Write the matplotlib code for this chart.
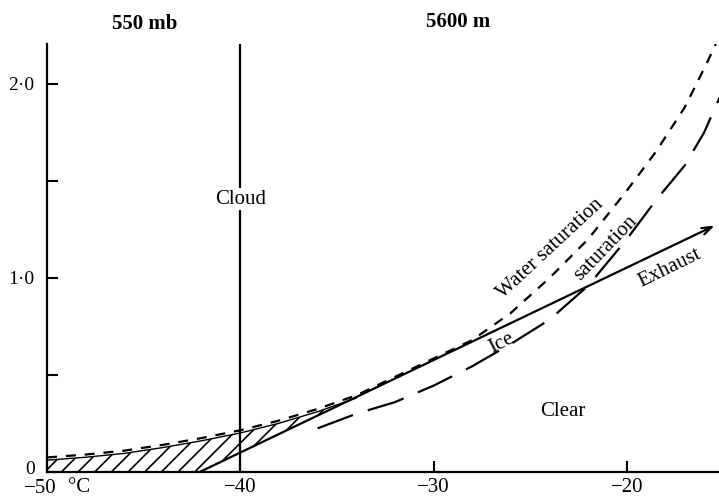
import numpy as np
import matplotlib
matplotlib.use("Agg")
import matplotlib.pyplot as plt
from matplotlib.transforms import ScaledTranslation

# ---------------------------------------------------------------------------
# Data (temperature in deg C, value on left axis)
# ---------------------------------------------------------------------------
water_T = [-50, -48, -46, -44, -42, -40, -38, -36, -34, -32, -30, -28, -26,
           -24, -22, -20, -18.5, -17, -15.8, -15.2]
water_v = [0.075, 0.09, 0.11, 0.14, 0.175, 0.215, 0.265, 0.325, 0.395, 0.49,
           0.585, 0.68, 0.82, 1.00, 1.20, 1.45, 1.65, 1.88, 2.12, 2.25]

ice_T = [-36, -34, -32, -30, -28, -26, -24, -22, -20, -18.5, -17, -16,
         -15.2]
ice_v = [0.225, 0.30, 0.36, 0.445, 0.545, 0.66, 0.785, 0.96, 1.20, 1.40,
         1.58, 1.75, 1.93]

exhaust_T = [-42.1, -15.46]
exhaust_v = [0.0, 1.27]

xticks = [-50, -40, -30, -20]
xticklabels = ['\u221250', '\u221240', '\u221230', '\u221220']
yticks = [0, 0.5, 1.0, 1.5, 2.0]
yticklabels = ['0', '', '1\u00b70', '', '2\u00b70']

plt.rcParams['font.family'] = ['Liberation Serif', 'DejaVu Serif']
plt.rcParams['hatch.linewidth'] = 1.2

fig = plt.figure(figsize=(7.19, 4.98), dpi=100)
ax = fig.add_axes([47 / 719, 26 / 498, 672 / 719, 428 / 498])
ax.set_xlim(-50, -15.23)
ax.set_ylim(0, 2.206)

# hatched cloud region under the water saturation curve
wT = np.array(water_T)
wv = np.array(water_v)
lower = np.interp(wT, exhaust_T, exhaust_v)
sel = wT <= -34
ax.fill_between(wT[sel], lower[sel], wv[sel] - 0.014, facecolor='none',
                edgecolor='k', hatch='//', linewidth=0, zorder=2)
ax.plot(wT[sel], wv[sel] - 0.014, color='k', lw=1.0, zorder=3)

# saturation curves
ax.plot(water_T, water_v, color='k', lw=1.6, dashes=(4.5, 4), zorder=3)
ax.plot(ice_T, ice_v, color='k', lw=1.6, dashes=(17, 7), zorder=3)

# exhaust mixing line
ax.annotate('', xy=(exhaust_T[1], exhaust_v[1]),
            xytext=(exhaust_T[0], exhaust_v[0]),
            arrowprops=dict(arrowstyle='->,head_length=0.7,head_width=0.25',
                            lw=1.6, color='k', shrinkA=0, shrinkB=0),
            zorder=4)

# -40 line
ax.axvline(-40, color='k', lw=1.6, zorder=1)

# labels
ax.text(-40, 1.405, 'Cloud', ha='center', va='center', fontsize=15,
        bbox=dict(facecolor='white', edgecolor='none', pad=1), zorder=5)
ax.text(-23.3, 0.31, 'Clear', ha='center', va='center', fontsize=15)
ax.text(-23.95, 1.15, 'Water saturation', ha='center', va='center',
        fontsize=15, rotation=43)
ax.text(-21.1, 1.155, 'saturation', ha='center', va='center', fontsize=15,
        rotation=46)
ax.text(-26.5, 0.665, 'Ice', ha='center', va='center', fontsize=15,
        rotation=27)
ax.text(-17.8, 1.05, 'Exhaust', ha='center', va='center', fontsize=15,
        rotation=26)

fig.text(145 / 719, 1 - 24 / 498, '550 mb', ha='center', va='center',
         fontsize=15, fontweight='bold')
fig.text(458 / 719, 1 - 22 / 498, '5600 m', ha='center', va='center',
         fontsize=15, fontweight='bold')

# axes styling
for s in ['top', 'right']:
    ax.spines[s].set_visible(False)
for s in ['left', 'bottom']:
    ax.spines[s].set_linewidth(1.6)
ax.set_xticks(xticks)
ax.set_xticklabels(xticklabels, fontsize=15)
ax.set_yticks(yticks)
ax.set_yticklabels(yticklabels, fontsize=14)
ax.tick_params(direction='in', length=8, width=1.5)
ax.tick_params(axis='y', pad=9)
ax.tick_params(axis='x', pad=4)

# nudge the corner labels apart as in the original
ylab0 = ax.get_yticklabels()[0]
ylab0.set_transform(ylab0.get_transform() +
                    ScaledTranslation(0, 3 / 72, fig.dpi_scale_trans))
xlab0 = ax.get_xticklabels()[0]
xlab0.set_transform(xlab0.get_transform() +
                    ScaledTranslation(-5 / 72, -1 / 72, fig.dpi_scale_trans))
ax.text(-48.35, -0.082, '\u00b0C', transform=ax.transData, ha='center',
        va='center', fontsize=15, clip_on=False)

fig.savefig('out.png', dpi=100)
